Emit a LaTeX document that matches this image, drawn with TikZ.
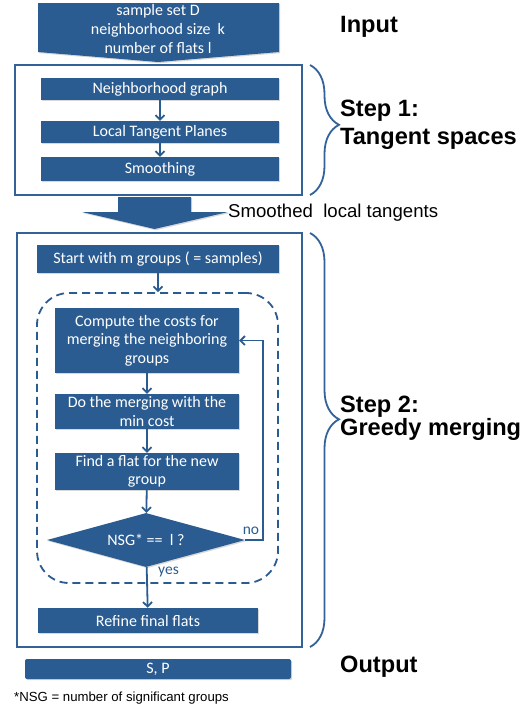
\documentclass[tikz,border=0pt]{standalone}
\usepackage{fontspec}
\setmainfont{Carlito}
\newfontfamily\arialfont{Liberation Sans}
\usetikzlibrary{arrows.meta,shapes.geometric,decorations.pathreplacing,shadows}
\definecolor{boxblue}{RGB}{43,92,145}
\definecolor{lineblue}{RGB}{50,98,152}
\begin{document}
\begin{tikzpicture}[x=1pt,y=-1pt,
  blk/.style={fill=boxblue, text=white, inner sep=0pt, align=center,
    font=\fontsize{16}{18.5}\selectfont,
    drop shadow={shadow xshift=1.2pt, shadow yshift=-1.2pt, opacity=0.3}},
  frame/.style={draw=lineblue, line width=2.2pt, inner sep=0pt},
  conn/.style={draw=boxblue, line width=1.8pt, -{Straight Barb[length=4.5pt,width=9pt,line width=1.8pt]}},
  lbl/.style={font=\arialfont\bfseries\fontsize{23.6}{26}\selectfont, anchor=west, align=left, inner sep=0pt},
  bracestyle/.style={draw=lineblue, line width=1.8pt, decorate},
  small/.style={text=boxblue, font=\fontsize{15.5}{17}\selectfont, inner sep=0pt}]
\useasboundingbox[fill=white] (0,0) rectangle (531,707);

% input arrow
\fill[boxblue, drop shadow={shadow xshift=1.2pt, shadow yshift=-1.2pt, opacity=0.3}]
  (38,3) -- (279,3) -- (279,52) -- (158,62) -- (38,52) -- cycle;
\node[text=white, align=center, font=\fontsize{16}{19}\selectfont, inner sep=0pt] (inp) at (158,29)
  {sample set D\\neighborhood size\ \ k\\number of flats l};

% step 1
\node[frame, minimum width=287pt, minimum height=130pt] (s1) at (158.5,130) {};
\node[blk, minimum width=238pt, minimum height=22pt] (ng) at (160,89) {Neighborhood graph};
\node[blk, minimum width=238pt, minimum height=22pt] (ltp) at (160,132) {Local Tangent Planes};
\node[blk, minimum width=238pt, minimum height=24pt] (sm) at (160,169) {Smoothing};
\draw[conn] (ng) -- (ltp);
\draw[conn] (ltp) -- (sm);

% block arrow between steps
\fill[boxblue, drop shadow={shadow xshift=1.2pt, shadow yshift=-1.2pt, opacity=0.3}]
  (118,197) -- (191,197) -- (191,212) -- (228,212) -- (154.5,229) -- (82,212) -- (118,212) -- cycle;
\node[font=\arialfont\fontsize{18.6}{21}\selectfont, anchor=west, inner sep=0pt] (smt) at (228,213) {Smoothed\ \ local tangents};

% step 2
\node[frame, minimum width=285pt, minimum height=414pt] (s2) at (159.5,440) {};
\node[blk, minimum width=242pt, minimum height=28pt] (start) at (158,259) {Start with m groups ( = samples)};
\node[draw=boxblue, line width=1.8pt, dash pattern=on 8pt off 5pt, rounded corners=32pt,
  minimum width=241pt, minimum height=290pt, inner sep=0pt] (loop) at (157.5,438) {};
\node[blk, minimum width=184pt, minimum height=65pt] (comp) at (147,340.5)
  {Compute the costs for\\merging the neighboring\\groups};
\node[blk, minimum width=184pt, minimum height=35pt] (merge) at (147,411.5)
  {Do the merging with the\\min cost};
\node[blk, minimum width=184pt, minimum height=37pt] (flat) at (147,471.5)
  {Find a flat for the new\\group};
\node[blk, shape=diamond, aspect=3.67, minimum width=198pt, minimum height=54pt] (dia) at (146,540)
  {NSG* ==\ \ l ?};
\node[blk, minimum width=220pt, minimum height=25pt] (ref) at (148,620.5) {Refine final flats};
\node[blk, rounded corners=2pt, minimum width=266pt, minimum height=20pt] (sp) at (158,669) {S, P};

\draw[conn] (start) -- (start |- loop.north);
\draw[conn] (comp) -- (merge);
\draw[conn] (merge) -- (flat);
\draw[conn] (flat) -- (dia);
\draw[conn] (dia) -- (ref);
\draw[conn] (dia.east) -- ++(18,0) |- (comp.east);
\node[small, anchor=south] (no) at (251,535) {no};
\node[small, anchor=west] (yes) at (158,572) {yes};

% braces and labels
\draw[bracestyle, decoration={brace, amplitude=29pt, aspect=0.46}] (310,65) -- (310,195);
\draw[bracestyle, decoration={brace, amplitude=29pt, aspect=0.45}] (310,233) -- (310,647);
\node[lbl] (lin) at (340,27) {Input};
\node[lbl, font=\arialfont\bfseries\fontsize{23.6}{28}\selectfont] (l1) at (340,125) {Step 1:\\Tangent spaces};
\node[lbl, font=\arialfont\bfseries\fontsize{23.6}{23}\selectfont] (l2) at (340,418) {Step 2:\\Greedy merging};
\node[lbl] (lout) at (340,667) {Output};

\node[font=\arialfont\fontsize{13.2}{15}\selectfont, anchor=west, inner sep=0pt] (fn) at (14,698)
  {*NSG = number of significant groups};
\end{tikzpicture}
\end{document}
